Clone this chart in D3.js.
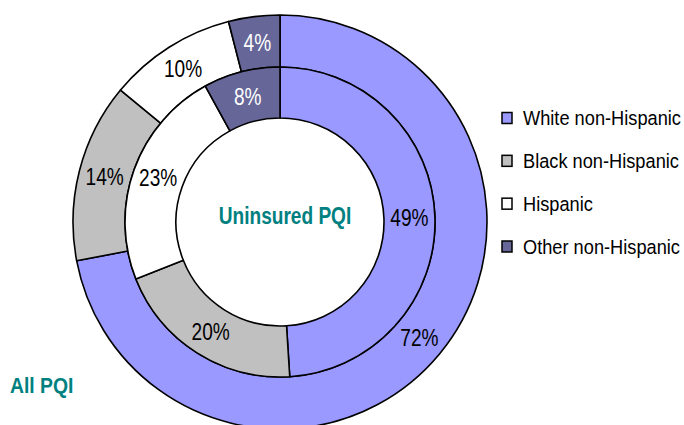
<!DOCTYPE html>
<html>
<head>
<meta charset="utf-8">
<script src="https://cdn.jsdelivr.net/npm/d3@7"></script>
<style>
  html, body { margin: 0; padding: 0; background: #fff; }
  svg { display: block; font-family: "Liberation Sans", Arial, sans-serif; }
</style>
</head>
<body>
<svg id="chart" width="684" height="425"></svg>
<script>
const categories = ["White non-Hispanic", "Black non-Hispanic", "Hispanic", "Other non-Hispanic"];
const allPQI = [72, 14, 10, 4];
const uninsuredPQI = [49, 20, 23, 8];
const colors = ["#9999FF", "#C0C0C0", "#FFFFFF", "#666699"];
const labelColors = ["#000", "#000", "#000", "#fff"];
const ringTitles = ["All PQI", "Uninsured PQI"];

const svg = d3.select("#chart");
const cx = 280, cy = 222;
const rOuter = 207, rMid = 155, rInner = 104;

const pie = d3.pie().sort(null).value(d => d);
const g = svg.append("g").attr("transform", `translate(${cx},${cy})`);

function ring(values, r0, r1) {
  const arc = d3.arc().innerRadius(r0).outerRadius(r1);
  const arcs = pie(values);
  const rg = g.append("g");
  rg.selectAll("path").data(arcs).join("path")
    .attr("d", arc)
    .attr("fill", (d, i) => colors[i])
    .attr("stroke", "#000")
    .attr("stroke-width", 1.6)
    .attr("stroke-linejoin", "round");
  rg.selectAll("g.lbl").data(arcs).join("g")
    .attr("class", "lbl")
    .attr("transform", d => { const c = arc.centroid(d); return `translate(${c[0]},${c[1]}) scale(0.83,1)`; })
    .append("text")
    .attr("text-anchor", "middle")
    .attr("dy", "0.36em")
    .attr("font-size", 23)
    .attr("fill", (d, i) => labelColors[i])
    .text(d => d.data + "%");
}
ring(allPQI, rMid, rOuter);
ring(uninsuredPQI, rInner, rMid);

// Ring titles
svg.append("g").attr("transform", "translate(10,393) scale(0.88,1)")
  .append("text").attr("font-size", 22).attr("font-weight", "bold").attr("fill", "#008080")
  .text(ringTitles[0]);
svg.append("g").attr("transform", "translate(285,224) scale(0.83,1)")
  .append("text").attr("text-anchor", "middle").attr("font-size", 23).attr("font-weight", "bold").attr("fill", "#008080")
  .text(ringTitles[1]);

// Legend
const legendY = d3.scalePoint().domain(categories).range([118, 246.5]);
const lg = svg.append("g");
const items = lg.selectAll("g").data(categories).join("g")
  .attr("transform", d => `translate(502,${legendY(d)})`);
items.append("rect")
  .attr("x", 0).attr("y", -5.5).attr("width", 10).attr("height", 11)
  .attr("fill", (d, i) => colors[i]).attr("stroke", "#000").attr("stroke-width", 1.5);
items.append("g").attr("transform", "translate(21,7) scale(0.935,1)")
  .append("text").attr("font-size", 19.5).attr("fill", "#000")
  .text(d => d);
</script>
</body>
</html>
